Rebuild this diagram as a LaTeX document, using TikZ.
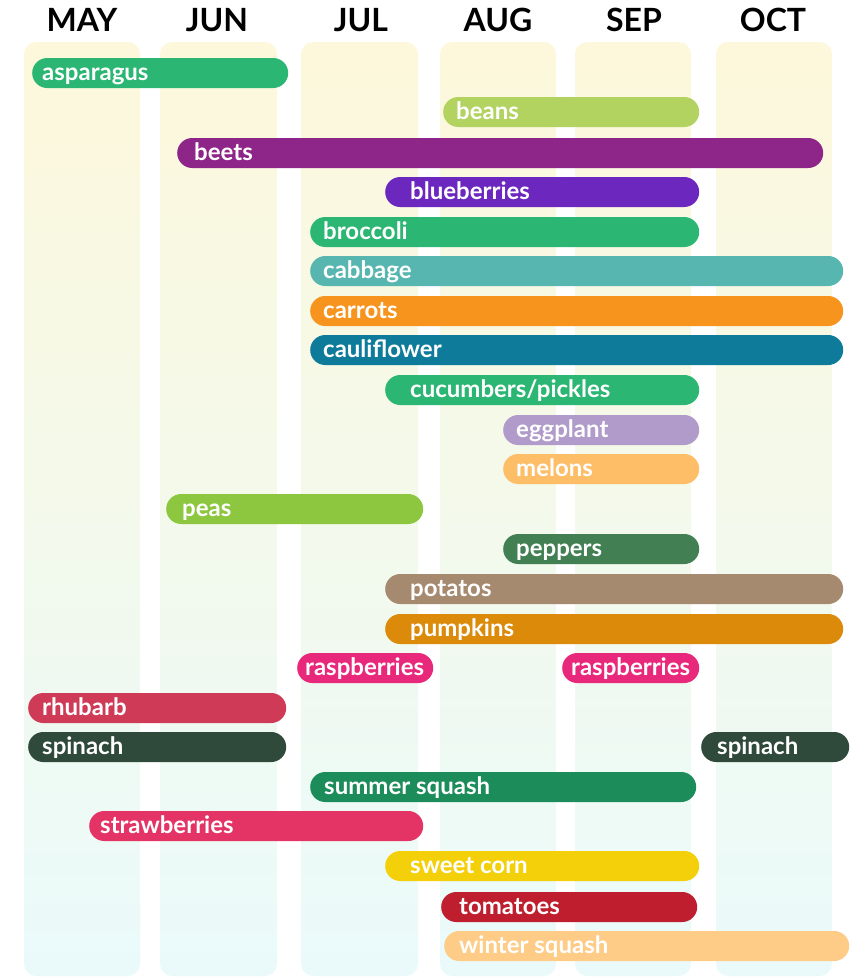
\documentclass[tikz,border=0pt]{standalone}
\usepackage{fontspec}
\setmainfont{Lato}
\usepackage{tikz}
\usetikzlibrary{positioning}
\usepackage{xcolor}

\definecolor{colTop}{HTML}{FDF8DB}
\definecolor{colMid}{HTML}{F2F8EB}
\definecolor{colBot}{HTML}{EAFAFB}
\definecolor{cGreen}{HTML}{2BB673}
\definecolor{cBeans}{HTML}{B2D35F}
\definecolor{cBeets}{HTML}{8E2589}
\definecolor{cBlue}{HTML}{6C28BE}
\definecolor{cCabbage}{HTML}{57B6B0}
\definecolor{cCarrot}{HTML}{F7941D}
\definecolor{cCauli}{HTML}{0E7B9A}
\definecolor{cEgg}{HTML}{B09BCA}
\definecolor{cMelon}{HTML}{FDBE67}
\definecolor{cPeas}{HTML}{8DC63F}
\definecolor{cPepper}{HTML}{427F53}
\definecolor{cPotato}{HTML}{A68A6F}
\definecolor{cPumpkin}{HTML}{DB8A0A}
\definecolor{cRasp}{HTML}{E8287A}
\definecolor{cRhubarb}{HTML}{CF3B57}
\definecolor{cSpinach}{HTML}{2F4A3A}
\definecolor{cSummer}{HTML}{1C8D5A}
\definecolor{cStraw}{HTML}{E43466}
\definecolor{cCorn}{HTML}{F4D00B}
\definecolor{cTomato}{HTML}{BE1E2D}
\definecolor{cWinter}{HTML}{FECC87}

\tikzset{
  monthcol/.style={top color=colTop, middle color=colMid, bottom color=colBot, rounded corners=12pt},
  monthname/.style={font=\fontsize{32}{32}\selectfont\bfseries, text=black},
  cropbar/.style={rounded corners=15pt, minimum height=30pt, inner sep=0pt},
  croplabel/.style={font=\fontsize{24}{24}\selectfont\bfseries, text=white, inner sep=0pt}
}
% name, colour, start, end, row, text start, label
\newcommand{\crop}[7]{%
  \node[cropbar, fill=#2, minimum width=#4pt-#3pt, anchor=west] (#1) at (#3,#5) {};
  \node[croplabel, anchor=base west] (#1-t) at (#6,#5+7) {#7};
}

\begin{document}
\begin{tikzpicture}[x=1pt,y=-1pt]
\useasboundingbox (0,0) rectangle (850,978);
% month columns
\shade[monthcol] (24,42) rectangle (140,976);
\shade[monthcol] (160,42) rectangle (277,976);
\shade[monthcol] (301,42) rectangle (418,976);
\shade[monthcol] (440,42) rectangle (556,976);
\shade[monthcol] (575,42) rectangle (691,976);
\shade[monthcol] (716,42) rectangle (832,976);
\node[monthname] (may) at (82,20) {MAY};
\node[monthname] (jun) at (217,20) {JUN};
\node[monthname] (jul) at (361,20) {JUL};
\node[monthname] (aug) at (498,20) {AUG};
\node[monthname] (sep) at (634,20) {SEP};
\node[monthname] (oct) at (773,20) {OCT};
% crops
\crop{asparagus}{cGreen}{32}{288}{73}{42}{asparagus}
\crop{beans}{cBeans}{443}{699}{112}{456}{beans}
\crop{beets}{cBeets}{177}{823}{153}{194}{beets}
\crop{blueberries}{cBlue}{385}{699}{192}{410}{blueberries}
\crop{broccoli}{cGreen}{310}{699}{232}{323}{broccoli}
\crop{cabbage}{cCabbage}{310}{843}{271}{323}{cabbage}
\crop{carrots}{cCarrot}{310}{843}{311}{323}{carrots}
\crop{cauliflower}{cCauli}{310}{843}{350}{323}{cauliflower}
\crop{cucumbers}{cGreen}{385}{699}{390}{410}{cucumbers/pickles}
\crop{eggplant}{cEgg}{503}{699}{430}{516}{eggplant}
\crop{melons}{cMelon}{503}{699}{469}{516}{melons}
\crop{peas}{cPeas}{166}{423}{509}{182}{peas}
\crop{peppers}{cPepper}{503}{699}{549}{516}{peppers}
\crop{potatos}{cPotato}{385}{843}{589}{410}{potatos}
\crop{pumpkins}{cPumpkin}{385}{843}{629}{410}{pumpkins}
\crop{raspA}{cRasp}{297}{433}{668}{305}{raspberries}
\crop{raspB}{cRasp}{562}{699}{668}{571}{raspberries}
\crop{rhubarb}{cRhubarb}{28}{286}{708}{42}{rhubarb}
\crop{spinachA}{cSpinach}{28}{286}{747}{42}{spinach}
\crop{spinachB}{cSpinach}{701}{849}{747}{717}{spinach}
\crop{summer}{cSummer}{310}{696}{787}{324}{summer squash}
\crop{strawberries}{cStraw}{89}{423}{826}{100}{strawberries}
\crop{corn}{cCorn}{385}{699}{866}{410}{sweet corn}
\crop{tomatoes}{cTomato}{441}{697}{907}{459}{tomatoes}
\crop{winter}{cWinter}{444}{849}{946}{459}{winter squash}
\end{tikzpicture}
\end{document}
